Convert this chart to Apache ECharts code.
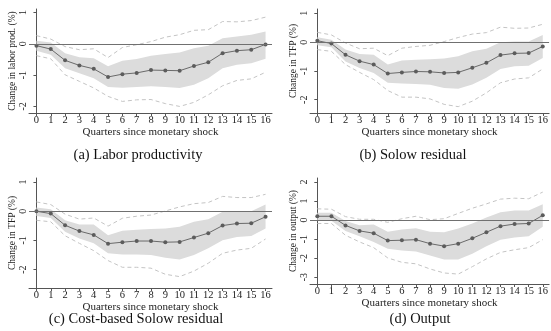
<!DOCTYPE html>
<html><head><meta charset="utf-8">
<script src="https://cdn.jsdelivr.net/npm/echarts@6/dist/echarts.min.js"></script>
<style>html,body{margin:0;padding:0;background:#fff}#c{width:551px;height:331px}</style>
</head><body><div id="c"></div>
<script>
const quarters = [0,1,2,3,4,5,6,7,8,9,10,11,12,13,14,15,16];
const xTickLabels = ['0','1','2','3','4','5','6','7','8','9','10','11','12','13','14','15','16'];
const xTitle = 'Quarters since monetary shock';

// (a) Labor productivity
const laborPoint   = [-0.06,-0.17,-0.53,-0.69,-0.80,-1.06,-0.97,-0.93,-0.84,-0.85,-0.86,-0.71,-0.59,-0.30,-0.22,-0.19,-0.02];
const laborBandHi  = [0.10,0.04,-0.30,-0.43,-0.46,-0.72,-0.54,-0.49,-0.38,-0.33,-0.28,-0.14,-0.06,0.18,0.23,0.29,0.39];
const laborBandLo  = [-0.22,-0.35,-0.78,-0.94,-1.10,-1.38,-1.40,-1.38,-1.36,-1.38,-1.41,-1.31,-1.10,-0.78,-0.67,-0.62,-0.48];
const laborDashHi  = [0.26,0.15,-0.09,-0.19,-0.16,-0.44,-0.12,-0.03,0.07,0.21,0.29,0.43,0.45,0.71,0.70,0.74,0.85];
const laborDashLo  = [-0.38,-0.48,-0.99,-1.20,-1.41,-1.68,-1.84,-1.79,-1.78,-1.91,-2.00,-1.87,-1.63,-1.34,-1.17,-1.12,-0.91];

// (b) Solow residual
const solowPoint   = [0.05,-0.05,-0.44,-0.66,-0.78,-1.09,-1.05,-1.02,-1.03,-1.07,-1.05,-0.89,-0.72,-0.45,-0.39,-0.38,-0.15];
const solowBandHi  = [0.17,0.08,-0.26,-0.41,-0.44,-0.78,-0.64,-0.61,-0.59,-0.57,-0.49,-0.32,-0.23,0.00,0.02,0.02,0.25];
const solowBandLo  = [-0.11,-0.18,-0.67,-0.90,-1.07,-1.41,-1.44,-1.45,-1.48,-1.59,-1.62,-1.47,-1.24,-0.93,-0.84,-0.82,-0.55];
const solowDashHi  = [0.34,0.25,-0.03,-0.23,-0.21,-0.47,-0.21,-0.15,-0.11,0.02,0.16,0.28,0.33,0.52,0.48,0.49,0.62];
const solowDashLo  = [-0.26,-0.32,-0.78,-1.05,-1.30,-1.68,-1.91,-1.91,-1.97,-2.16,-2.24,-2.05,-1.76,-1.41,-1.28,-1.24,-0.93];

// (c) Cost-based Solow residual
const costPoint    = [0.00,-0.08,-0.48,-0.68,-0.81,-1.11,-1.06,-1.02,-1.02,-1.06,-1.05,-0.90,-0.75,-0.49,-0.42,-0.41,-0.19];
const costBandHi   = [0.13,0.07,-0.31,-0.45,-0.45,-0.82,-0.67,-0.63,-0.61,-0.59,-0.53,-0.36,-0.27,-0.02,0.00,0.00,0.23];
const costBandLo   = [-0.16,-0.23,-0.70,-0.93,-1.10,-1.44,-1.48,-1.48,-1.50,-1.59,-1.65,-1.50,-1.27,-0.99,-0.88,-0.85,-0.59];
const costDashHi   = [0.32,0.23,-0.10,-0.27,-0.23,-0.51,-0.24,-0.17,-0.13,0.01,0.15,0.26,0.30,0.51,0.47,0.47,0.58];
const costDashLo   = [-0.31,-0.36,-0.84,-1.10,-1.35,-1.69,-1.92,-1.92,-1.95,-2.16,-2.24,-2.05,-1.78,-1.44,-1.33,-1.27,-0.95];

// (d) Output
const outputPoint  = [0.20,0.20,-0.28,-0.57,-0.69,-1.08,-1.06,-1.03,-1.24,-1.37,-1.24,-0.96,-0.64,-0.32,-0.21,-0.18,0.25];
const outputBandHi = [0.39,0.39,-0.05,-0.27,-0.23,-0.62,-0.50,-0.43,-0.62,-0.64,-0.44,-0.18,0.14,0.41,0.50,0.50,0.83];
const outputBandLo = [-0.04,-0.04,-0.57,-0.85,-1.15,-1.51,-1.60,-1.65,-1.86,-2.07,-2.07,-1.77,-1.38,-1.03,-0.92,-0.85,-0.35];
const outputDashHi = [0.59,0.57,0.18,0.04,0.04,-0.12,0.07,0.20,0.02,0.07,0.35,0.62,0.85,1.10,1.15,1.12,1.47];
const outputDashLo = [-0.18,-0.18,-0.80,-1.15,-1.45,-1.99,-2.22,-2.30,-2.57,-2.78,-2.84,-2.45,-2.04,-1.70,-1.56,-1.45,-1.03];

const yTitles = ['Change in labor prod. (%)','Change in TFP (%)','Change in TFP (%)','Change in output (%)'];
const captions = ['(a) Labor productivity','(b) Solow residual','(c) Cost-based Solow residual','(d) Output'];
const yTicksAB = [-2,-1,0,1];
const yTicksD = [-3,-2,-1,0,1,2];

const panels = [
  {point: laborPoint, hi: laborBandHi, lo: laborBandLo, dhi: laborDashHi, dlo: laborDashLo, ticks: yTicksAB,
   grid: {left: 29, top: 9, width: 243, height: 104}, ymin: -2.21, ymax: 1.11, cap: [138, 155]},
  {point: solowPoint, hi: solowBandHi, lo: solowBandLo, dhi: solowDashHi, dlo: solowDashLo, ticks: yTicksAB,
   grid: {left: 310, top: 9, width: 243, height: 104}, ymin: -2.46, ymax: 1.15, cap: [413, 155]},
  {point: costPoint, hi: costBandHi, lo: costBandLo, dhi: costDashHi, dlo: costDashLo, ticks: yTicksAB,
   grid: {left: 29, top: 178, width: 243, height: 110}, ymin: -2.63, ymax: 1.14, cap: [136, 319]},
  {point: outputPoint, hi: outputBandHi, lo: outputBandLo, dhi: outputDashHi, dlo: outputDashLo, ticks: yTicksD,
   grid: {left: 310, top: 178, width: 243, height: 106}, ymin: -3.36, ymax: 2.21, cap: [420, 319]}
];

const FONT = 'Liberation Serif';
const grids = [], xAxes = [], yAxes = [], series = [], graphics = [];
panels.forEach((p, i) => {
  grids.push(Object.assign({containLabel: false}, p.grid));
  xAxes.push({
    type: 'value', gridIndex: i, min: -0.52, max: 16.45,
    name: xTitle, nameLocation: 'middle', nameGap: 13,
    nameTextStyle: {fontFamily: FONT, fontSize: 11, color: '#222'},
    axisLine: {onZero: false, lineStyle: {color: '#555', width: 1}},
    axisTick: {show: true, length: 3, customValues: quarters, lineStyle: {color: '#555'}},
    axisLabel: {customValues: quarters, formatter: v => xTickLabels[quarters.indexOf(v)], margin: 2,
      fontFamily: FONT, fontSize: 10.5, color: '#222'},
    splitLine: {show: false}
  });
  yAxes.push({
    type: 'value', gridIndex: i, min: p.ymin, max: p.ymax,
    name: yTitles[i], nameLocation: 'middle', nameGap: 4, nameRotate: 90,
    nameTextStyle: {fontFamily: FONT, fontSize: 9.5, color: '#222'},
    axisLine: {show: true, lineStyle: {color: '#555', width: 1}},
    axisTick: {show: true, length: 3, customValues: p.ticks, lineStyle: {color: '#555'}},
    axisLabel: {customValues: p.ticks, rotate: 90, margin: 1, fontFamily: FONT, fontSize: 10, color: '#222',
      formatter: v => String(v)},
    splitLine: {show: false}
  });
  const pair = arr => quarters.map((q, k) => [q, arr[k]]);
  // confidence band as one polygon through the axis scales
  series.push({type: 'custom', xAxisIndex: i, yAxisIndex: i, silent: true, z: 1,
    data: [[quarters[0], p.hi[0]]],
    renderItem: (params, api) => {
      const pts = [];
      quarters.forEach((q, k) => pts.push(api.coord([q, p.hi[k]])));
      for (let k = quarters.length - 1; k >= 0; k--) pts.push(api.coord([quarters[k], p.lo[k]]));
      return {type: 'polygon', shape: {points: pts}, style: {fill: '#dcdcdc', stroke: null}};
    }});
  [p.dhi, p.dlo].forEach(arr => series.push({type: 'line', xAxisIndex: i, yAxisIndex: i, data: pair(arr),
    symbol: 'none', lineStyle: {color: '#c4c4c4', width: 1, type: [4, 3]}, silent: true, z: 2}));
  series.push({type: 'line', xAxisIndex: i, yAxisIndex: i, data: pair(p.point),
    symbol: 'circle', symbolSize: 4, itemStyle: {color: '#5c5c5c'},
    lineStyle: {color: '#6a6a6a', width: 1}, z: 4,
    markLine: {silent: true, symbol: 'none', label: {show: false},
      lineStyle: {color: '#707070', width: 1, type: 'solid'}, data: [{yAxis: 0}]}});
  graphics.push({type: 'text', x: p.cap[0], y: p.cap[1],
    style: {text: captions[i], font: '14.5px "Liberation Serif"', fill: '#111', textAlign: 'center', textVerticalAlign: 'middle'}});
});

const chart = echarts.init(document.getElementById('c'), null, {renderer: 'canvas'});
chart.setOption({
  animation: false,
  grid: grids, xAxis: xAxes, yAxis: yAxes, series: series, graphic: graphics
});
</script></body></html>
